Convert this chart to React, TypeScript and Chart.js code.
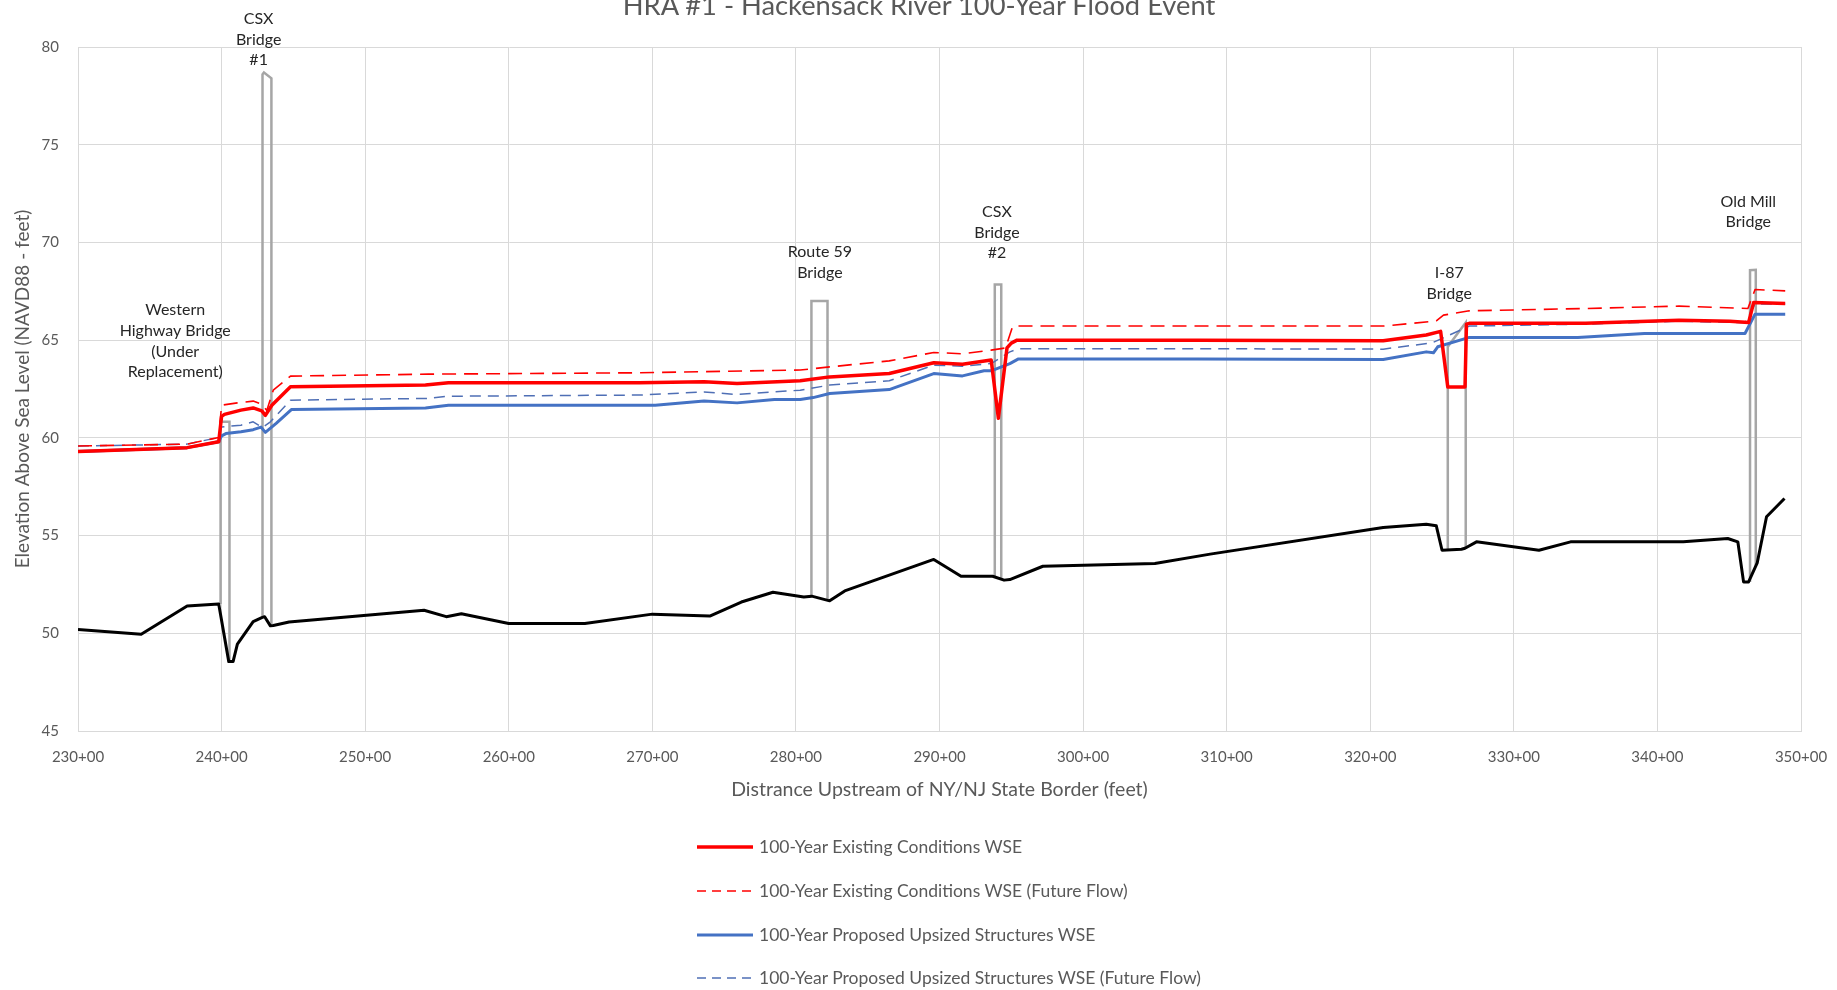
import React, { useEffect, useRef } from "react";
import { Chart, registerables } from "chart.js";

Chart.register(...registerables);

const TITLE = "HRA #1 - Hackensack River 100-Year Flood Event";
const X_TITLE = "Distrance Upstream of NY/NJ State Border (feet)";
const Y_TITLE = "Elevation Above Sea Level (NAVD88 - feet)";

// axis ticks (stations in hundreds of feet, elevations in feet)
const xTicks = [230, 240, 250, 260, 270, 280, 290, 300, 310, 320, 330, 340, 350];
const yTicks = [45, 50, 55, 60, 65, 70, 75, 80];

const seriesNames = [
  "100-Year Existing Conditions WSE",
  "100-Year Existing Conditions WSE (Future Flow)",
  "100-Year Proposed Upsized Structures WSE",
  "100-Year Proposed Upsized Structures WSE (Future Flow)",
];

// 100-Year Existing Conditions WSE
const existingStations = [230, 237.6, 239.8, 240.0, 240.2, 241.35, 242.2, 242.8, 243.05, 243.5, 244.8, 254.2, 255.8, 269.1, 273.6, 275.9, 280.3, 282.35, 286.5, 289.6, 291.6, 293.6, 294.1, 294.7, 295.0, 295.4, 308.0, 320.9, 323.9, 324.9, 325.4, 326.6, 326.7, 326.9, 335.0, 341.5, 345.05, 346.35, 346.7, 348.9];
const existingWse = [59.3, 59.5, 59.8, 61.1, 61.2, 61.42, 61.53, 61.38, 61.15, 61.67, 62.61, 62.7, 62.82, 62.82, 62.87, 62.78, 62.92, 63.12, 63.29, 63.84, 63.77, 63.98, 61.0, 64.6, 64.85, 65.0, 65.0, 64.97, 65.26, 65.45, 62.6, 62.6, 65.82, 65.86, 65.86, 66.02, 65.97, 65.9, 66.92, 66.88];

// 100-Year Existing Conditions WSE (Future Flow)
const existingFutureStations = [230, 237.6, 239.8, 240.0, 241.1, 242.2, 242.8, 243.15, 243.6, 244.8, 254.4, 269.1, 280.3, 282.35, 286.5, 289.6, 291.6, 293.6, 294.6, 295.1, 308.0, 320.9, 324.6, 325.1, 326.9, 335.0, 341.5, 346.3, 346.8, 348.9];
const existingFutureWse = [59.58, 59.68, 60.02, 61.67, 61.79, 61.88, 61.72, 61.4, 62.44, 63.16, 63.26, 63.33, 63.47, 63.63, 63.94, 64.37, 64.3, 64.49, 64.6, 65.72, 65.72, 65.72, 65.98, 66.28, 66.5, 66.62, 66.74, 66.62, 67.59, 67.52];

// 100-Year Proposed Upsized Structures WSE
const proposedStations = [230, 237.6, 239.8, 240.0, 240.3, 241.35, 242.2, 242.75, 243.05, 243.8, 244.86, 254.2, 255.8, 270.2, 273.6, 275.9, 278.5, 280.3, 281.2, 282.35, 286.5, 289.6, 291.6, 293.1, 293.6, 294.9, 295.5, 308.0, 320.9, 323.9, 324.4, 324.7, 326.9, 334.45, 339.1, 346.1, 346.8, 348.9];
const proposedWse = [59.3, 59.5, 59.8, 60.1, 60.22, 60.31, 60.42, 60.55, 60.28, 60.74, 61.45, 61.53, 61.67, 61.67, 61.88, 61.79, 61.96, 61.96, 62.06, 62.27, 62.47, 63.29, 63.17, 63.43, 63.43, 63.8, 64.04, 64.04, 64.01, 64.4, 64.35, 64.66, 65.14, 65.14, 65.34, 65.34, 66.33, 66.33];

// 100-Year Proposed Upsized Structures WSE (Future Flow)
const proposedFutureStations = [230, 237.6, 239.8, 240.0, 240.6, 241.35, 242.2, 242.85, 243.4, 244.8, 254.4, 255.8, 269.1, 273.6, 275.9, 280.3, 282.35, 286.5, 289.6, 291.6, 293.6, 294.9, 295.5, 308.0, 320.9, 324.3, 324.7, 326.9, 335.0, 341.5, 346.1, 346.8, 348.9];
const proposedFutureWse = [59.58, 59.68, 60.02, 60.55, 60.6, 60.65, 60.82, 60.53, 60.82, 61.93, 62.02, 62.13, 62.19, 62.35, 62.22, 62.44, 62.7, 62.92, 63.72, 63.67, 63.8, 64.4, 64.56, 64.56, 64.54, 64.86, 64.99, 65.72, 65.82, 65.97, 65.89, 66.85, 66.85];

// Channel bottom (ground)
const groundStations = [230, 234.4, 237.6, 239.8, 240.5, 240.8, 241.1, 242.2, 242.8, 243.0, 243.4, 243.6, 244.7, 254.1, 255.65, 256.7, 260.0, 265.3, 270.0, 274.0, 276.2, 278.4, 280.55, 281.1, 282.35, 283.4, 289.6, 291.5, 293.7, 294.5, 294.9, 297.2, 305.0, 308.85, 320.9, 323.9, 324.6, 325.0, 326.35, 326.6, 327.4, 331.75, 333.95, 341.8, 344.9, 345.6, 346.0, 346.35, 346.95, 347.6, 348.85];
const groundElevations = [50.2, 49.95, 51.4, 51.5, 48.55, 48.55, 49.45, 50.6, 50.8, 50.85, 50.38, 50.4, 50.58, 51.18, 50.85, 51.0, 50.5, 50.5, 50.98, 50.88, 51.6, 52.1, 51.86, 51.9, 51.66, 52.17, 53.78, 52.92, 52.92, 52.72, 52.75, 53.43, 53.57, 54.05, 55.41, 55.58, 55.5, 54.25, 54.3, 54.35, 54.68, 54.25, 54.68, 54.68, 54.85, 54.68, 52.63, 52.63, 53.6, 55.96, 56.9];

// Bridge outlines (null separates bridges)
const bridgeStations = [
  239.93, 239.93, 240.55, 240.55, null,
  242.85, 242.85, 242.95, 243.47, 243.47, null,
  281.08, 281.08, 282.2, 282.2, null,
  293.85, 293.85, 294.3, 294.3, null,
  325.4, 325.4, 326.65, 326.65, null,
  346.45, 346.45, 346.85, 346.85,
];
const bridgeElevations = [
  51.5, 60.82, 60.82, 48.55, null,
  50.8, 78.6, 78.7, 78.4, 50.4, null,
  51.9, 67.0, 67.0, 51.7, null,
  52.92, 67.85, 67.85, 52.75, null,
  54.27, 64.66, 65.9, 54.33, null,
  52.63, 68.58, 68.6, 53.45,
];

// Bridge annotation labels (anchor = centre of first line, in data units)
const bridgeLabelText = [
  ["Western", "Highway Bridge", "(Under", "Replacement)"],
  ["CSX", "Bridge", "#1"],
  ["Route 59", "Bridge"],
  ["CSX", "Bridge", "#2"],
  ["I-87", "Bridge"],
  ["Old Mill", "Bridge"],
];
const bridgeLabelStations = [236.77, 242.58, 281.67, 294.0, 325.5, 346.33];
const bridgeLabelElevations = [66.53, 81.44, 69.5, 71.55, 68.43, 72.09];

const toPoints = (xs: (number | null)[], ys: (number | null)[]) =>
  xs.map((x, i) => ({ x: x === null ? NaN : x, y: ys[i] === null ? NaN : ys[i] }));

const FONT = "Lato";
const GRAY_TEXT = "#595959";

const bridgeLabelPlugin = {
  id: "bridgeLabels",
  afterDatasetsDraw(chart: any) {
    const { ctx, scales } = chart;
    const x = scales.x;
    const y = scales.y;
    ctx.save();
    ctx.font = `16px ${FONT}`;
    ctx.fillStyle = "#262626";
    ctx.textAlign = "center";
    ctx.textBaseline = "middle";
    bridgeLabelText.forEach((lines, i) => {
      const px = x.getPixelForValue(bridgeLabelStations[i]);
      const py = y.getPixelForValue(bridgeLabelElevations[i]);
      lines.forEach((t, j) => ctx.fillText(t, px, py + j * 20.6));
    });
    ctx.restore();
  },
};

const legendStyles = [
  { color: "#FF0000", width: 3.5, dash: "" },
  { color: "#FF0000", width: 1.6, dash: "9 6" },
  { color: "#4472C4", width: 3, dash: "" },
  { color: "#4F6FB5", width: 1.5, dash: "9 6" },
];
const legendCenters = [847, 891, 935, 978];

const lineBase = {
  showLine: true,
  pointRadius: 0,
  tension: 0,
  borderJoinStyle: "round",
  borderCapStyle: "butt",
};

export default function App() {
  const ref = useRef<HTMLCanvasElement | null>(null);

  useEffect(() => {
    if (!ref.current) return;
    const chart = new Chart(ref.current, {
      type: "scatter",
      data: {
        datasets: [
          {
            ...lineBase,
            label: seriesNames[0],
            data: toPoints(existingStations, existingWse),
            borderColor: "#FF0000",
            backgroundColor: "#FF0000",
            borderWidth: 3.5,
          },
          {
            ...lineBase,
            label: seriesNames[1],
            data: toPoints(existingFutureStations, existingFutureWse),
            borderColor: "#FF0000",
            backgroundColor: "#FF0000",
            borderWidth: 1.6,
            borderDash: [14, 8],
          },
          {
            ...lineBase,
            label: seriesNames[2],
            data: toPoints(proposedStations, proposedWse),
            borderColor: "#4472C4",
            backgroundColor: "#4472C4",
            borderWidth: 3,
          },
          {
            ...lineBase,
            label: seriesNames[3],
            data: toPoints(proposedFutureStations, proposedFutureWse),
            borderColor: "#4F6FB5",
            backgroundColor: "#4F6FB5",
            borderWidth: 1.5,
            borderDash: [11, 7],
          },
          {
            ...lineBase,
            label: "Channel Bottom",
            data: toPoints(groundStations, groundElevations),
            borderColor: "#000000",
            backgroundColor: "#000000",
            borderWidth: 3,
          },
          {
            ...lineBase,
            label: "Bridges",
            data: toPoints(bridgeStations, bridgeElevations),
            spanGaps: false,
            borderColor: "#A6A6A6",
            backgroundColor: "#A6A6A6",
            borderWidth: 2.5,
            borderJoinStyle: "miter",
          },
        ],
      },
      options: {
        responsive: false,
        animation: false,
        devicePixelRatio: 1,
        layout: { padding: { left: 0, right: 36, top: 47, bottom: 185 } },
        plugins: {
          legend: { display: false },
          title: { display: false },
          tooltip: { enabled: false },
        },
        scales: {
          x: {
            type: "linear",
            min: 230,
            max: 350,
            afterBuildTicks: (scale: any) => {
              scale.ticks = xTicks.map((v) => ({ value: v }));
            },
            afterFit: (scale: any) => {
              scale.height = 74;
              scale.paddingRight = 0;
              scale.paddingLeft = 0;
            },
            ticks: {
              autoSkip: false,
              maxRotation: 0,
              padding: 17,
              color: GRAY_TEXT,
              font: { family: FONT, size: 15 },
              callback: (v: any) => `${v}+00`,
            },
            grid: { color: "#D9D9D9", lineWidth: 1, drawTicks: false },
            border: { color: "#D9D9D9", width: 1 },
            title: {
              display: true,
              text: X_TITLE,
              color: GRAY_TEXT,
              font: { family: FONT, size: 19.5 },
              padding: { top: 0, bottom: 4 },
            },
          },
          y: {
            type: "linear",
            min: 45,
            max: 80,
            afterBuildTicks: (scale: any) => {
              scale.ticks = yTicks.map((v) => ({ value: v }));
            },
            afterFit: (scale: any) => {
              scale.width = 78;
            },
            ticks: {
              padding: 19,
              color: GRAY_TEXT,
              font: { family: FONT, size: 15 },
            },
            grid: { color: "#D9D9D9", lineWidth: 1, drawTicks: false },
            border: { color: "#D9D9D9", width: 1 },
            title: {
              display: true,
              text: Y_TITLE,
              color: GRAY_TEXT,
              font: { family: FONT, size: 19 },
              padding: { top: 11, bottom: 0 },
            },
          },
        },
      },
      plugins: [bridgeLabelPlugin],
    } as any);
    return () => chart.destroy();
  }, []);

  return (
    <div
      style={{
        position: "fixed",
        left: 0,
        top: 0,
        width: 1837,
        height: 990,
        background: "#ffffff",
        overflow: "hidden",
        fontFamily: FONT,
      }}
    >
      <canvas
        ref={ref}
        width={1837}
        height={990}
        style={{ position: "absolute", left: 0, top: 0, width: 1837, height: 990 }}
      />
      <div
        style={{
          position: "absolute",
          left: 519,
          width: 800,
          top: -9,
          textAlign: "center",
          fontSize: 27.3,
          lineHeight: "27px",
          color: GRAY_TEXT,
          whiteSpace: "nowrap",
        }}
      >
        {TITLE}
      </div>
      {seriesNames.map((name, i) => (
        <div
          key={name}
          style={{
            position: "absolute",
            left: 697,
            top: legendCenters[i] - 10,
            height: 20,
            display: "flex",
            alignItems: "center",
            whiteSpace: "nowrap",
          }}
        >
          <svg width={56} height={10} style={{ display: "block" }}>
            <line
              x1={0}
              y1={5}
              x2={56}
              y2={5}
              stroke={legendStyles[i].color}
              strokeWidth={legendStyles[i].width}
              strokeDasharray={legendStyles[i].dash || undefined}
            />
          </svg>
          <span style={{ marginLeft: 6, fontSize: 17.5, lineHeight: "20px", color: GRAY_TEXT }}>{name}</span>
        </div>
      ))}
    </div>
  );
}
